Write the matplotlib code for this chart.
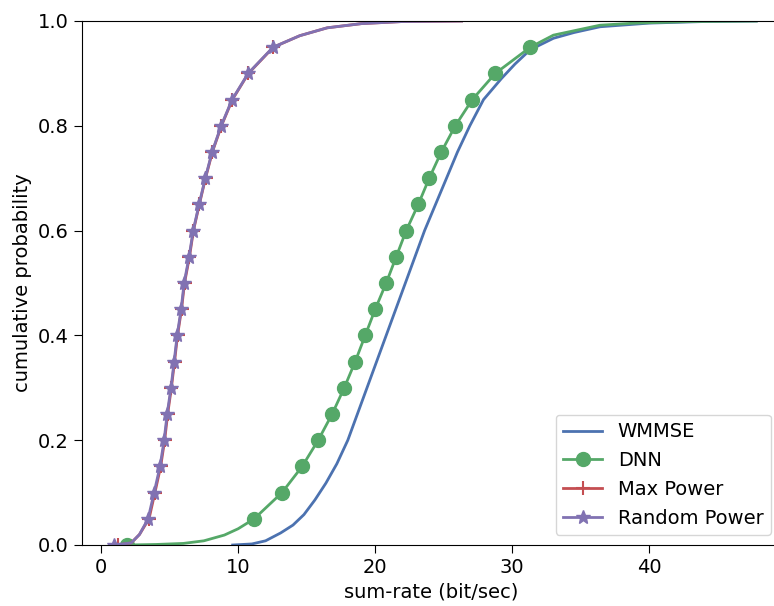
import matplotlib
matplotlib.use("Agg")
import matplotlib.pyplot as plt

# probability grid for the marked curves (markers every 0.05)
probs = [0.0, 0.05, 0.10, 0.15, 0.20, 0.25, 0.30, 0.35, 0.40, 0.45, 0.50,
         0.55, 0.60, 0.65, 0.70, 0.75, 0.80, 0.85, 0.90, 0.95]

# WMMSE (no markers)
wmmse_x = [9.6, 11.0, 12.0, 13.1, 14.0, 14.8, 15.6, 16.4, 17.2, 18.0, 18.7,
           19.4, 20.1, 20.8, 21.5, 22.2, 22.9, 23.6, 24.4, 25.2, 26.0, 26.9,
           27.9, 29.2, 30.2, 31.3, 33.0, 34.5, 36.4, 40.0, 44.0, 47.8]
wmmse_p = [0.0, 0.002, 0.008, 0.023, 0.038, 0.058, 0.086, 0.118, 0.155, 0.2, 0.25,
           0.3, 0.35, 0.4, 0.45, 0.5, 0.55, 0.6, 0.65, 0.7, 0.75, 0.8,
           0.85, 0.89, 0.918, 0.945, 0.967, 0.978, 0.989, 0.996, 0.999, 1.0]

# DNN
dnn_q = [1.9, 11.17, 13.2, 14.67, 15.84, 16.86, 17.74, 18.54, 19.27, 20.0, 20.8,
         21.53, 22.26, 23.14, 23.94, 24.82, 25.84, 27.08, 28.76, 31.31]
dnn_tail_x = [4.0, 6.0, 7.5, 9.0, 10.0]
dnn_tail_p = [0.001, 0.003, 0.008, 0.019, 0.031]
dnn_top_x = [33.0, 36.4, 39.0, 43.0, 47.8]
dnn_top_p = [0.973, 0.992, 0.996, 0.999, 1.0]

# Max Power
maxp_q = [1.2, 3.50, 3.93, 4.35, 4.64, 4.86, 5.13, 5.36, 5.58, 5.87, 6.09,
          6.45, 6.74, 7.17, 7.62, 8.12, 8.78, 9.58, 10.75, 12.57]
# Random Power
randp_q = [0.95, 3.43, 3.87, 4.30, 4.60, 4.82, 5.10, 5.33, 5.55, 5.84, 6.06,
           6.42, 6.72, 7.15, 7.60, 8.10, 8.76, 9.56, 10.73, 12.55]
low_tail_x = [2.2, 2.8]
low_tail_p = [0.004, 0.02]
top_tail_x = [14.5, 16.5, 19.0, 22.0, 26.3]
top_tail_p = [0.972, 0.987, 0.995, 0.999, 1.0]


def build(q, lo_x, lo_p, hi_x, hi_p):
    # first quantile point, lower tail, remaining quantiles, upper tail
    xs = [q[0]] + lo_x + q[1:] + hi_x
    ps = [probs[0]] + lo_p + probs[1:] + hi_p
    marks = [0] + list(range(1 + len(lo_x), len(lo_x) + len(q)))
    return xs, ps, marks


dnn_x, dnn_p, dnn_m = build(dnn_q, dnn_tail_x, dnn_tail_p, dnn_top_x, dnn_top_p)
max_x, max_p, max_m = build(maxp_q, low_tail_x, low_tail_p, top_tail_x, top_tail_p)
rnd_x, rnd_p, rnd_m = build(randp_q, low_tail_x, low_tail_p, top_tail_x, top_tail_p)

fig = plt.figure(figsize=(7.74, 6.06), dpi=100)
ax = fig.add_axes([82 / 774, 1 - 545 / 606, (781 - 82) / 774, (545 - 21) / 606])

ax.plot(wmmse_x, wmmse_p, color="#4C72B0", lw=2, label="WMMSE")
ax.plot(dnn_x, dnn_p, color="#55A868", lw=2, marker="o", markersize=10,
        markevery=dnn_m, label="DNN")
ax.plot(max_x, max_p, color="#C44E52", lw=2, marker="+", markersize=10,
        markeredgewidth=1.5, markevery=max_m, label="Max Power")
ax.plot(rnd_x, rnd_p, color="#8172B2", lw=2, marker="*", markersize=10,
        markevery=rnd_m, label="Random Power")

ax.set_xlim(-1.39, 49.6)
ax.set_ylim(0, 1)
ax.set_xticks([0, 10, 20, 30, 40])
ax.set_yticks([0.0, 0.2, 0.4, 0.6, 0.8, 1.0])
ax.tick_params(labelsize=14, length=6)
ax.set_xlabel("sum-rate (bit/sec)", fontsize=14)
ax.set_ylabel("cumulative probability", fontsize=14)

ax.legend(loc="lower right", fontsize=14)

fig.savefig("out.png", dpi=100)
